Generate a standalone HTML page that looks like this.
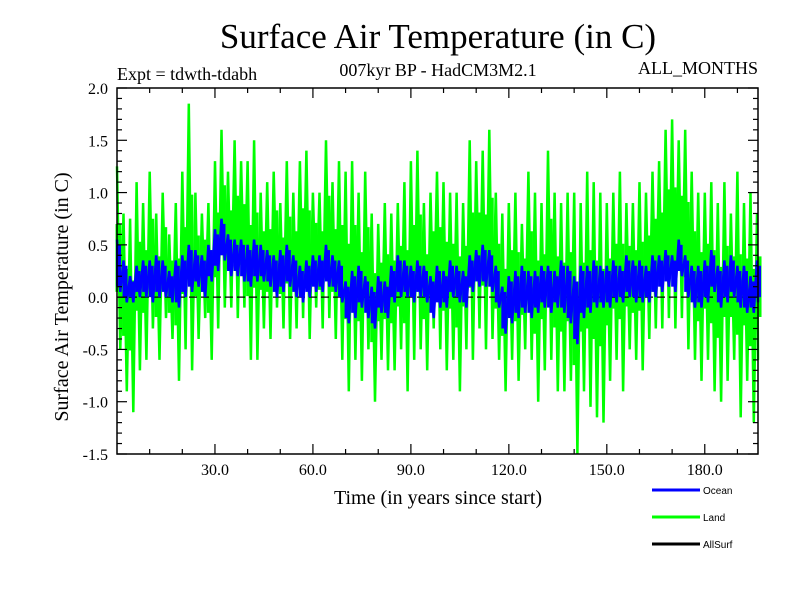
<!DOCTYPE html>
<html><head><meta charset="utf-8"><style>
body{margin:0;background:#fff;}
svg{display:block;font-family:"Liberation Serif",serif;}
</style></head><body>
<svg id="chart" width="800" height="600">
<text x="438" y="48" font-size="35" text-anchor="middle">Surface Air Temperature (in C)</text>
<text x="438" y="76" font-size="18" text-anchor="middle">007kyr BP - HadCM3M2.1</text>
<text x="117" y="80" font-size="18">Expt = tdwth-tdabh</text>
<text x="758" y="74" font-size="18" text-anchor="end">ALL_MONTHS</text>
<text transform="translate(68,297) rotate(-90)" font-size="20" text-anchor="middle">Surface Air Temperature (in C)</text>
<text x="438" y="504" font-size="20" text-anchor="middle">Time (in years since start)</text>
<g id="plot"></g>
<g id="axes"></g>
<g font-family="Liberation Sans, sans-serif" font-size="10">
<g><line x1="652" y1="490" x2="700" y2="490" stroke="#0000ff" stroke-width="3"/><text x="703" y="494">Ocean</text></g>
<g><line x1="652" y1="517" x2="700" y2="517" stroke="#00ff00" stroke-width="3"/><text x="703" y="521">Land</text></g>
<g><line x1="652" y1="544" x2="700" y2="544" stroke="#000" stroke-width="3"/><text x="703" y="548">AllSurf</text></g>
</g>
</svg>
<script>
const years=[];for(let i=0;i<=98;i++)years.push(i*2);
const landHi=[1.25,0.8,0.75,1.1,0.9,1.2,0.8,1.0,0.6,0.9,1.2,1.85,1.0,0.8,0.9,1.3,1.6,1.2,1.5,1.3,1.3,1.5,1.0,1.1,1.2,0.9,1.3,1.0,1.3,1.4,1.0,1.0,1.5,1.1,1.3,1.2,1.3,1.0,1.2,0.8,0.7,0.9,0.8,0.9,1.1,1.3,1.4,0.9,1.0,1.2,1.1,1.0,1.0,0.9,1.5,1.3,1.4,1.6,1.0,0.8,0.9,1.0,0.7,1.2,1.0,0.9,1.4,1.0,0.9,1.0,1.0,0.9,1.2,1.1,1.0,0.9,1.0,1.2,0.9,0.9,1.1,1.0,1.2,1.3,1.6,1.7,1.5,1.6,1.2,1.0,1.0,1.1,0.9,1.1,0.8,1.2,0.9,1.0,0.8];
const landLo=[-0.5,-0.9,-1.1,-0.7,-0.6,-0.3,-0.6,-0.2,-0.4,-0.8,-0.5,-0.7,-0.4,-0.2,-0.6,-0.3,-0.1,-0.1,-0.2,-0.1,-0.6,-0.6,-0.3,-0.4,-0.1,-0.3,-0.4,-0.3,-0.2,-0.4,-0.1,-0.3,-0.2,-0.4,-0.6,-0.9,-0.6,-0.8,-0.5,-1.0,-0.6,-0.7,-0.7,-0.5,-0.9,-0.6,-0.5,-0.7,-0.3,-0.5,-0.7,-0.6,-0.9,-0.5,-0.6,-0.3,-0.5,-0.4,-0.6,-0.9,-0.6,-0.8,-0.5,-0.6,-1.0,-0.7,-0.6,-0.9,-0.9,-0.8,-1.5,-0.9,-1.05,-1.15,-1.2,-0.8,-0.6,-0.9,-0.5,-0.6,-0.7,-0.4,-0.3,-0.3,-0.2,-0.3,-0.2,-0.5,-0.6,-0.8,-0.6,-0.9,-1.0,-0.8,-0.6,-1.15,-0.8,-1.2,-0.6];
const oceanHi=[0.55,0.35,0.2,0.3,0.35,0.35,0.4,0.35,0.25,0.35,0.4,0.5,0.45,0.4,0.5,0.65,0.75,0.6,0.55,0.55,0.5,0.55,0.5,0.45,0.4,0.45,0.5,0.4,0.3,0.35,0.4,0.4,0.5,0.4,0.35,0.15,0.25,0.3,0.2,0.1,0.2,0.15,0.3,0.4,0.35,0.3,0.35,0.3,0.2,0.3,0.25,0.35,0.3,0.25,0.4,0.45,0.5,0.45,0.3,0.1,0.2,0.25,0.3,0.25,0.25,0.3,0.3,0.25,0.35,0.3,0.2,0.3,0.3,0.35,0.3,0.3,0.35,0.3,0.4,0.35,0.35,0.3,0.4,0.4,0.45,0.4,0.55,0.4,0.3,0.3,0.35,0.45,0.3,0.35,0.4,0.3,0.3,0.2,0.35];
const oceanLo=[0.05,-0.05,-0.05,0.0,0.0,-0.05,0.0,0.0,-0.05,-0.1,0.0,0.05,0.1,0.0,0.15,0.25,0.35,0.2,0.2,0.15,0.1,0.15,0.15,0.1,0.0,0.05,0.1,0.0,-0.05,0.0,0.05,0.05,0.1,0.05,-0.05,-0.25,-0.2,-0.1,-0.2,-0.3,-0.15,-0.2,-0.05,0.0,0.0,-0.05,0.0,-0.05,-0.2,-0.1,-0.1,0.0,-0.05,-0.1,0.05,0.1,0.1,0.05,-0.1,-0.35,-0.25,-0.2,-0.15,-0.2,-0.15,-0.1,-0.15,-0.1,-0.15,-0.25,-0.45,-0.2,-0.15,-0.1,-0.1,-0.1,-0.05,-0.05,0.0,-0.05,-0.05,-0.05,0.0,0.05,0.1,0.05,0.2,0.0,-0.1,-0.1,-0.05,0.05,-0.1,-0.05,0.0,-0.1,-0.15,-0.15,-0.05];
const yTicks=[-1.5,-1.0,-0.5,0.0,0.5,1.0,1.5,2.0];
const xTicks=[30,60,90,120,150,180];
const X0=117,X1=758,Y0=88,Y1=454,XMIN=0,XMAX=196.3,YMIN=-1.5,YMAX=2.0;
function xs(v){return X0+(v-XMIN)/(XMAX-XMIN)*(X1-X0);}
function ys(v){return Y1-(v-YMIN)/(YMAX-YMIN)*(Y1-Y0);}
const NS='http://www.w3.org/2000/svg';
const plot=document.getElementById('plot'),axes=document.getElementById('axes');
function mk(tag,attrs,parent){const e=document.createElementNS(NS,tag);for(const k in attrs)e.setAttribute(k,attrs[k]);parent.appendChild(e);return e;}
let d='';
years.forEach((yr,i)=>{d+=(i?'L':'M')+xs(yr).toFixed(1)+','+ys(landHi[i]).toFixed(1)+'L'+xs(Math.min(yr+1,XMAX)).toFixed(1)+','+ys(landLo[i]).toFixed(1);});
const land=mk('path',{d:d,fill:'none',stroke:'#00ff00','stroke-width':2.5},plot);


years.forEach((yr,i)=>{
 const b=mk('line',{x1:xs(yr)+1.5,x2:xs(yr)+1.5,y1:ys(landHi[i]*0.6+landLo[i]*0.4+0.15),y2:ys(landLo[i]*0.6+landHi[i]*0.4-0.15),stroke:'#00ff00','stroke-width':6},plot);
 
 
});
const z=mk('line',{x1:X0,x2:X1,y1:ys(0),y2:ys(0),stroke:'#000','stroke-width':1.2,'stroke-dasharray':'8,4'},plot);


let od='';
years.forEach((yr,i)=>{od+=(i?'L':'M')+xs(yr).toFixed(1)+','+ys(oceanHi[i]).toFixed(1)+'L'+xs(Math.min(yr+1,XMAX)).toFixed(1)+','+ys(oceanLo[i]).toFixed(1);});
years.forEach((yr,i)=>{
 const b=mk('line',{x1:xs(yr)+1.5,x2:xs(yr)+1.5,y1:ys(oceanHi[i]-0.05),y2:ys(oceanLo[i]+0.05),stroke:'#0000ff','stroke-width':5},plot);
 
 
});
const oc=mk('path',{d:od,fill:'none',stroke:'#0000ff','stroke-width':2.5},plot);


const fr=mk('rect',{x:X0,y:Y0,width:X1-X0,height:Y1-Y0,fill:'none',stroke:'#000','stroke-width':1.5},axes);


for(let v=-1.5;v<=2.001;v+=0.1){const y=ys(v);const maj=Math.abs(v*2-Math.round(v*2))<1e-6;const L=maj?10:5;
 mk('line',{x1:X0,x2:X0+L,y1:y,y2:y,stroke:'#000','stroke-width':1.2},axes);
 mk('line',{x1:X1,x2:X1-L,y1:y,y2:y,stroke:'#000','stroke-width':1.2},axes);}
yTicks.forEach(v=>{const t=mk('text',{x:108,y:ys(v)+6,'font-size':16,'text-anchor':'end'},axes);t.textContent=v.toFixed(1);
 
 });
for(let v=10;v<XMAX;v+=10){const x=xs(v);const L=(v%30===0)?10:5;
 mk('line',{x1:x,x2:x,y1:Y1,y2:Y1-L,stroke:'#000','stroke-width':1.2},axes);
 mk('line',{x1:x,x2:x,y1:Y0,y2:Y0+L,stroke:'#000','stroke-width':1.2},axes);}
xTicks.forEach(v=>{const t=mk('text',{x:xs(v),y:Y1+21,'font-size':16,'text-anchor':'middle'},axes);t.textContent=v.toFixed(1);
 
 });
</script>
</body></html>
